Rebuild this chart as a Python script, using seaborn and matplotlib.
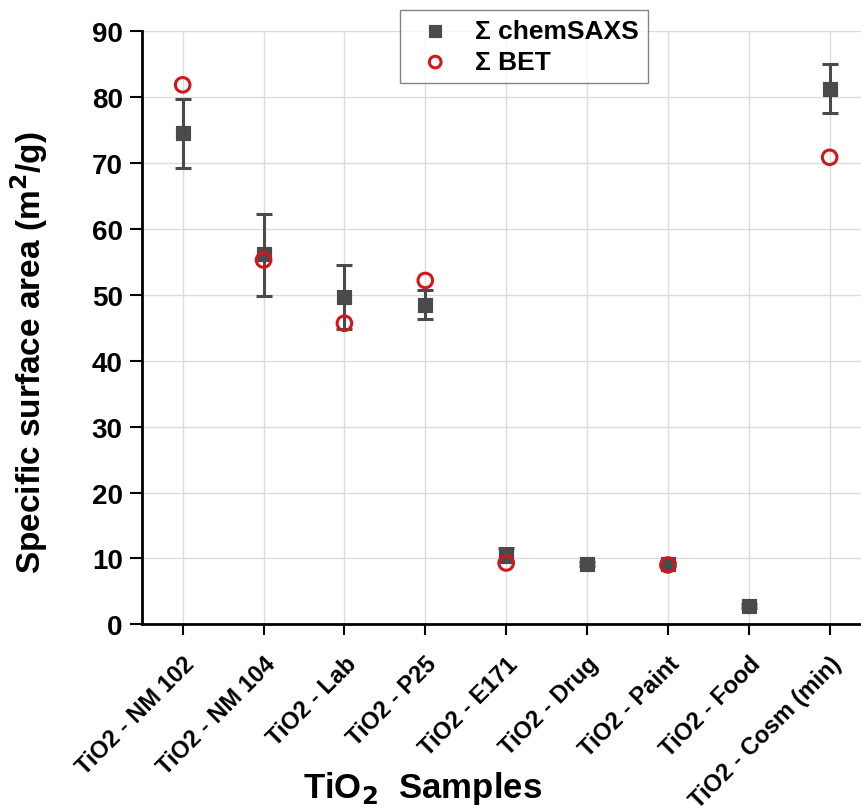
import numpy as np
import pandas as pd
import matplotlib
matplotlib.use("Agg")
import matplotlib.pyplot as plt
import seaborn as sns

# sample names and values
samples = ["TiO2 - NM 102", "TiO2 - NM 104", "TiO2 - Lab", "TiO2 - P25", "TiO2 - E171",
           "TiO2 - Drug", "TiO2 - Paint", "TiO2 - Food", "TiO2 - Cosm (min)"]
saxs = [74.6, 56.2, 49.7, 48.5, 10.4, 9.1, 9.1, 2.8, 81.3]
saxs_lo = [69.2, 49.9, 44.8, 46.4, 9.6, 8.8, 8.8, 2.5, 77.6]
saxs_hi = [79.8, 62.3, 54.6, 50.7, 11.6, 9.4, 9.4, 3.1, 85.0]
bet = [81.9, 55.3, 45.7, 52.2, 9.3, np.nan, 9.0, np.nan, 70.9]

df = pd.DataFrame({"sample": samples, "saxs": saxs, "lo": saxs_lo, "hi": saxs_hi, "bet": bet})
df["x"] = np.arange(len(df))

sns.set_style("whitegrid")
plt.rcParams["font.family"] = ["Liberation Sans", "DejaVu Sans"]
plt.rcParams["font.weight"] = "bold"
plt.rcParams["text.color"] = "black"
plt.rcParams["axes.labelcolor"] = "black"
plt.rcParams["xtick.color"] = "black"
plt.rcParams["ytick.color"] = "black"

fig, ax = plt.subplots(figsize=(8.62, 8.12), dpi=100)
fig.subplots_adjust(left=0.165, right=1.0, top=0.96, bottom=0.23)

dark = "#4a4a4a"
ax.errorbar(df["x"], df["saxs"], yerr=[df["saxs"] - df["lo"], df["hi"] - df["saxs"]],
            fmt="none", ecolor=dark, elinewidth=2.2, capsize=6, capthick=2.2, zorder=3)
sns.scatterplot(data=df, x="x", y="saxs", marker="s", s=110, color=dark,
                edgecolor=dark, ax=ax, zorder=4, label="Σ chemSAXS")
sns.scatterplot(data=df.dropna(subset=["bet"]), x="x", y="bet", marker="o", s=110,
                facecolor="none", edgecolor="#d4161c", linewidth=2.2, ax=ax, zorder=5,
                label="Σ BET")

ax.set_xlim(-0.5, 8.4)
ax.set_ylim(0, 90)
ax.set_yticks(range(0, 91, 10))
ax.set_xticks(df["x"])
ax.set_xticklabels(samples, rotation=45, ha="right", va="top", rotation_mode="anchor",
                   fontsize=17, fontweight="bold")
ax.tick_params(axis="y", labelsize=20, length=9, width=1.5, direction="out", left=True, pad=5)
ax.tick_params(axis="x", length=8, width=1.5, direction="out", bottom=True, pad=12)
for t in ax.get_yticklabels():
    t.set_fontweight("bold")

ax.grid(True, color="#dcdcdc", linewidth=1)
for side in ["top", "right"]:
    ax.spines[side].set_visible(False)
for side in ["left", "bottom"]:
    ax.spines[side].set_color("black")
    ax.spines[side].set_linewidth(2)

ax.set_xlabel("TiO$_\\mathbf{2}$  Samples", fontsize=25, fontweight="bold")
ax.xaxis.set_label_coords(0.39, -0.245)
ax.set_ylabel("Specific surface area (m$^\\mathbf{2}$/g)", fontsize=24, fontweight="bold")
ax.yaxis.set_label_coords(-0.128, 0.46)

leg = ax.legend(loc="upper center", bbox_to_anchor=(0.53, 1.036), borderaxespad=0,
                frameon=True, fancybox=False, edgecolor="#666666",
                prop={"size": 19, "weight": "bold"}, handletextpad=0.5,
                borderpad=0.35, labelspacing=0.25, markerscale=0.8)
leg.get_frame().set_linewidth(1)

fig.savefig("out.png", dpi=100)
